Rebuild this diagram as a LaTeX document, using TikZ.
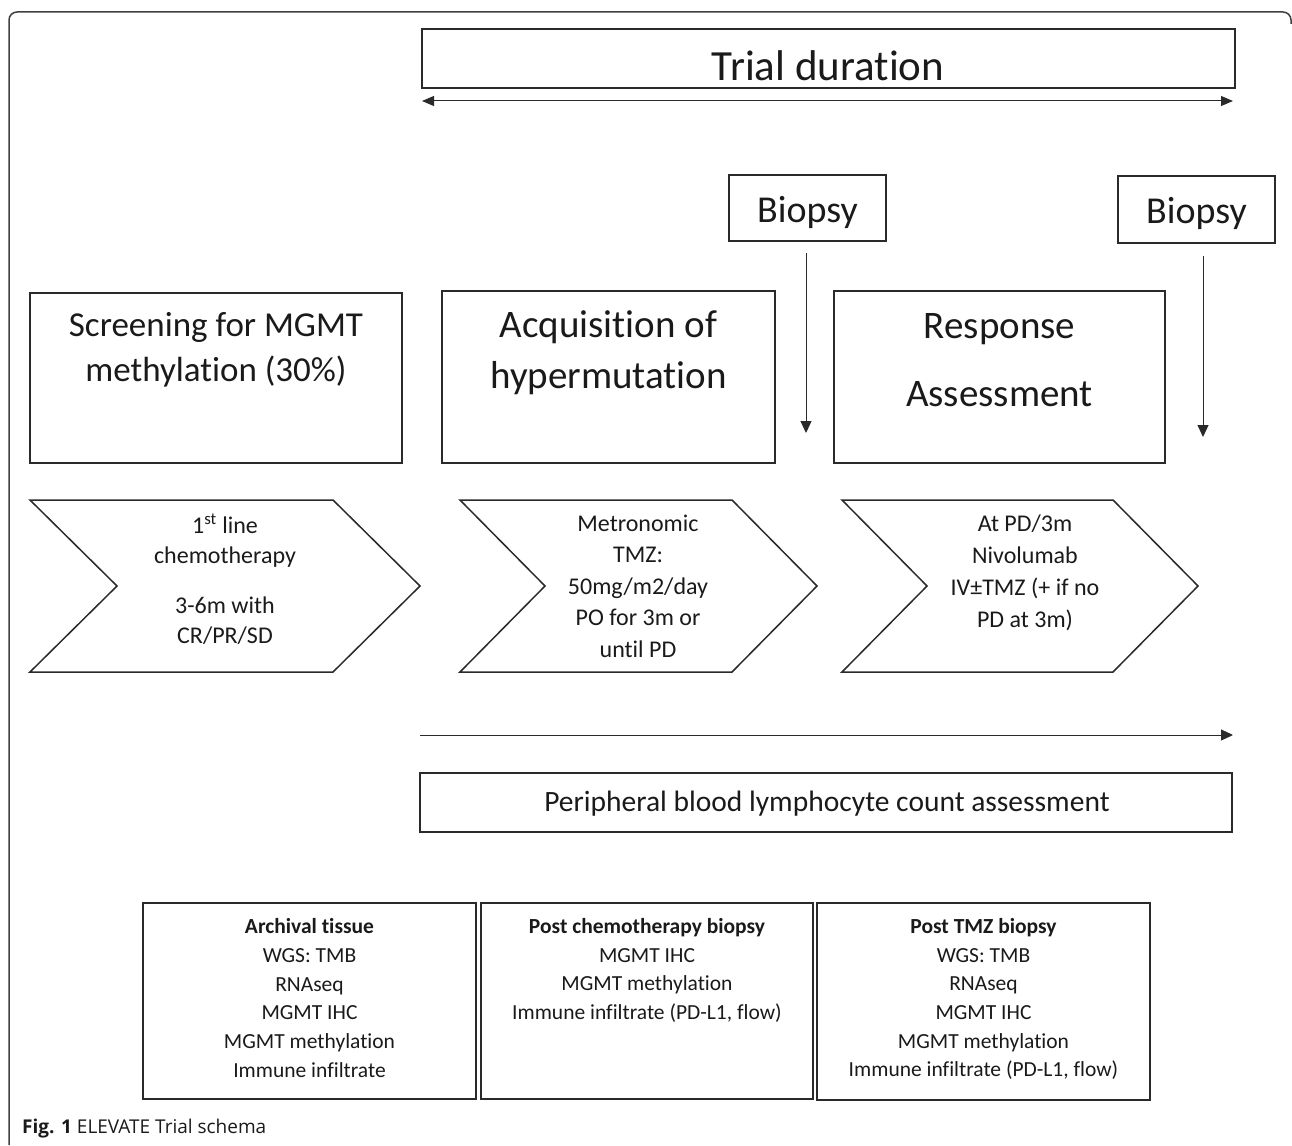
\documentclass[tikz,border=0pt]{standalone}
\usepackage{fontspec}
\setmainfont{Carlito}[RawFeature={-liga;-clig;-calt;-dlig;-rlig}]
\newfontfamily\capfont{Open Sans}
\usetikzlibrary{arrows.meta}
\definecolor{ink}{HTML}{1A1A1A}
\definecolor{edge}{HTML}{2A2A2A}
\tikzset{
  box/.style={draw=edge, line width=1.5pt, inner sep=0pt, fill=white},
  txt/.style={text=ink, align=center, inner sep=0pt},
  arr/.style={draw=edge, line width=1pt, -{Triangle[length=12pt,width=11pt]}},
  darr/.style={draw=edge, line width=1pt, {Triangle[length=12pt,width=10pt]}-{Triangle[length=12pt,width=10pt]}},
  chev/.style={draw=edge, line width=1.5pt, line join=miter},
  frame/.style={draw=black!75, line width=1.5pt, rounded corners=8pt}
}
\begin{document}
\begin{tikzpicture}[x=1pt,y=-1pt]
\useasboundingbox (0,0) rectangle (1292,1145);
% frame
\draw[frame] (9,1145) -- (9,12) -- (1291,12) -- (1291,24);

% Trial duration
\node[box, minimum width=813pt, minimum height=59pt] (trial) at (828.5,58.5) {};
\node[txt, font=\fontsize{43}{50}\selectfont] (trialtxt) at (828,66) {Trial duration};
\coordinate (dl) at (422,101);
\coordinate (dr) at (1233,101);
\draw[darr] (dl) -- (dr);

% Biopsy boxes
\node[box, minimum width=157pt, minimum height=66pt] (bio1) at (807.5,208) {};
\node[txt, font=\fontsize{38}{44}\selectfont] (bio1txt) at (807.5,212) {Biopsy};
\node[box, minimum width=157pt, minimum height=67pt] (bio2) at (1196.5,209.5) {};
\node[txt, font=\fontsize{38}{44}\selectfont] (bio2txt) at (1196.5,213) {Biopsy};
\coordinate (a1s) at (806,253);
\coordinate (a1e) at (806,433);
\coordinate (a2s) at (1203,256);
\coordinate (a2e) at (1203,437);
\draw[arr] (a1s) -- (a1e);
\draw[arr] (a2s) -- (a2e);

% Phase boxes
\node[box, minimum width=372pt, minimum height=170pt] (screen) at (216,378) {};
\node[txt, font=\fontsize{35}{45}\selectfont] (screentxt) at (216,350) {Screening for MGMT\\methylation (30\%)};
\node[box, minimum width=333pt, minimum height=172pt] (acq) at (608.5,377) {};
\node[txt, font=\fontsize{39}{51}\selectfont] (acqtxt) at (608.5,353) {Acquisition of\\hypermutation};
\node[box, minimum width=331pt, minimum height=172pt] (resp) at (999.5,377) {};
\node[txt, font=\fontsize{39}{68}\selectfont] (resptxt) at (999.5,360) {Response\\Assessment};

% Chevrons
\draw[chev] (30,500) -- (333,500) -- (420,586) -- (333,672) -- (30,672) -- (117,586) -- cycle;
\node[txt, font=\fontsize{24}{30}\selectfont] (c1txt) at (225,579) {1\textsuperscript{st} line\\chemotherapy\\[20pt]3-6m with\\CR/PR/SD};
\draw[chev] (460,500) -- (732,500) -- (817,586) -- (732,672) -- (460,672) -- (545,586) -- cycle;
\node[txt, font=\fontsize{24}{31.5}\selectfont] (c2txt) at (638,586) {Metronomic\\TMZ:\\50mg/m2/day\\PO for 3m or\\until PD};
\draw[chev] (842,500) -- (1113,500) -- (1198,586) -- (1113,672) -- (842,672) -- (927,586) -- cycle;
\node[txt, font=\fontsize{24}{32}\selectfont] (c3txt) at (1025,573) {At PD/3m\\Nivolumab\\IV\char"00B1 TMZ (+ if no\\PD at 3m)};

% timeline arrow and PBL box
\coordinate (ts) at (420,735);
\coordinate (te) at (1233,735);
\draw[arr] (ts) -- (te);
\node[box, minimum width=812pt, minimum height=59pt] (pbl) at (826,802.5) {};
\node[txt, font=\fontsize{29.5}{34}\selectfont] (pbltxt) at (827,804) {Peripheral blood lymphocyte count assessment};

% bottom boxes
\node[box, minimum width=333pt, minimum height=196pt] (arch) at (309.5,1001) {};
\node[txt, font=\fontsize{21.5}{28.7}\selectfont] (archtxt) at (309.5,998) {\textbf{Archival tissue}\\WGS: TMB\\RNAseq\\MGMT IHC\\MGMT methylation\\Immune infiltrate};
\node[box, minimum width=332pt, minimum height=196pt] (post) at (647,1001) {};
\node[txt, font=\fontsize{21.5}{28.7}\selectfont] (posttxt) at (647,970.5) {\textbf{Post chemotherapy biopsy}\\MGMT IHC\\MGMT methylation\\Immune infiltrate (PD-L1, flow)};
\node[box, minimum width=333pt, minimum height=197pt] (ptmz) at (983.5,1001.5) {};
\node[txt, font=\fontsize{21.5}{28.7}\selectfont] (ptmztxt) at (983.5,999) {\textbf{Post TMZ biopsy}\\WGS: TMB\\RNAseq\\MGMT IHC\\MGMT methylation\\Immune infiltrate (PD-L1, flow)};

% caption
\node[txt, anchor=base west, font=\capfont\fontsize{19}{22}\selectfont] (cap) at (22,1133) {\textbf{Fig. 1} ELEVATE Trial schema};
\end{tikzpicture}
\end{document}
